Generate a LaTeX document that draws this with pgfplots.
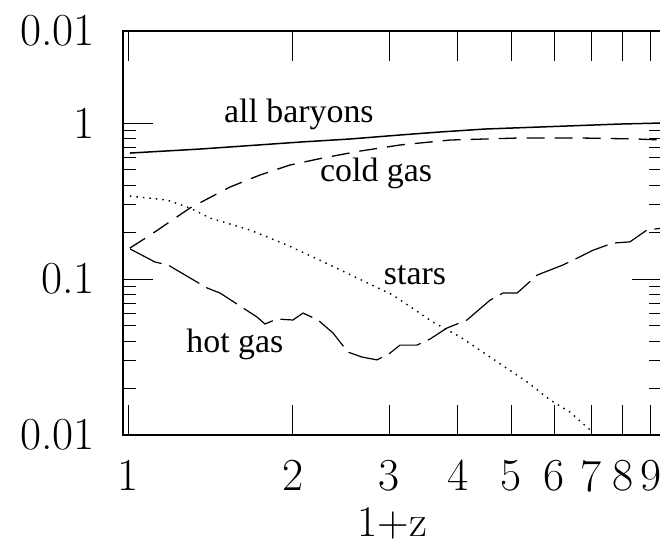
\documentclass[border=0pt]{standalone}
\usepackage{fontspec}
\usepackage{pgfplots}
\pgfplotsset{compat=1.18}
\newfontfamily\timesfont{Liberation Serif}
\begin{document}
\begin{tikzpicture}
\path[use as bounding box] (-123bp,-113bp) rectangle (537bp,435bp);
\begin{axis}[
  at={(0,0)}, anchor=south west,
  scale only axis, width=539bp, height=404bp,
  xmode=log, ymode=log,
  xmin=0.979, xmax=9.43, ymin=0.01, ymax=3.89,
  xtick={1,2,3,4,5,6,7,8,9}, xticklabels={1,2,3,4,5,6,7,8,9},
  xminorticks=false,
  ytick={0.01,0.1,1}, yticklabels={0.01,0.1,1},
  extra y ticks={3.89}, extra y tick labels={0.01},
  extra y tick style={major tick length=0pt},
  tick align=inside, major tick length=30bp, minor tick length=13bp,
  tick style={black, line width=1bp},
  axis line style={line width=1.3bp},
  /pgf/number format/assume math mode=true,
  tick label style={font=\fontsize{46}{50}\selectfont},
  yticklabel style={anchor=east, inner sep=0pt, xshift=-28bp},
  xticklabel style={anchor=north, inner sep=0pt, yshift=-25bp},
  xlabel={1+z},
  xlabel style={font=\fontsize{44}{48}\selectfont, at={(axis description cs:0.5,0)}, anchor=base, inner sep=0pt, yshift=-101bp},
  every axis plot/.append style={black, no marks, sharp plot},
]
% all baryons
\addplot[line width=1.5bp] coordinates {
(1.008,0.642) (1.353,0.681) (2.06,0.755) (2.542,0.790) (3.136,0.838)
(3.71,0.876) (4.48,0.915) (6.33,0.957) (7.90,0.985) (9.43,1.0)};
% cold gas
\addplot[line width=1.3bp, dash pattern=on 18bp off 10bp] coordinates {
(1.008,0.158) (1.097,0.191) (1.297,0.285) (1.535,0.389) (1.741,0.464)
(1.975,0.538) (2.269,0.597) (2.651,0.661) (3.136,0.723) (3.87,0.778)
(5.13,0.801) (6.77,0.801) (8.49,0.790) (9.43,0.778)};
% stars
\addplot[line width=1.4bp, dash pattern=on 1.5bp off 5bp] coordinates {
(1.008,0.340) (1.178,0.321) (1.297,0.285) (1.411,0.246) (1.670,0.206)
(1.951,0.165) (2.240,0.132) (2.596,0.103) (3.045,0.0789) (3.60,0.0530)
(4.04,0.0425) (4.58,0.0316) (5.35,0.0219) (5.89,0.0168) (6.41,0.0140)
(7.03,0.0105)};
% hot gas
\addplot[line width=1.2bp, dash pattern=on 35bp off 8bp] coordinates {
(1.008,0.156) (1.12,0.1285) (1.183,0.123) (1.394,0.0876) (1.472,0.0813)
(1.719,0.0571) (1.778,0.0515) (1.870,0.0554) (2.0,0.0546) (2.086,0.0605)
(2.222,0.0546) (2.366,0.0451) (2.52,0.0340) (2.673,0.0316) (2.847,0.0303)
(3.007,0.0335) (3.136,0.0377) (3.368,0.0377) (3.557,0.0412) (3.82,0.0485)
(4.155,0.0546) (4.58,0.0733) (4.834,0.0813) (5.13,0.0813) (5.58,0.106)
(6.22,0.123) (6.60,0.136) (7.06,0.153) (7.67,0.170) (8.24,0.173)
(8.85,0.206) (9.43,0.212)};
\node[anchor=base, font=\timesfont\fontsize{34}{34}\selectfont] at (axis cs:2.05,1.015) {all baryons};
\node[anchor=base, font=\timesfont\fontsize{34}{34}\selectfont] at (axis cs:2.836,0.419) {cold gas};
\node[anchor=base, font=\timesfont\fontsize{34}{34}\selectfont] at (axis cs:3.34,0.0916) {stars};
\node[anchor=base, font=\timesfont\fontsize{34}{34}\selectfont] at (axis cs:1.567,0.034) {hot gas};
\end{axis}
\end{tikzpicture}
\end{document}
